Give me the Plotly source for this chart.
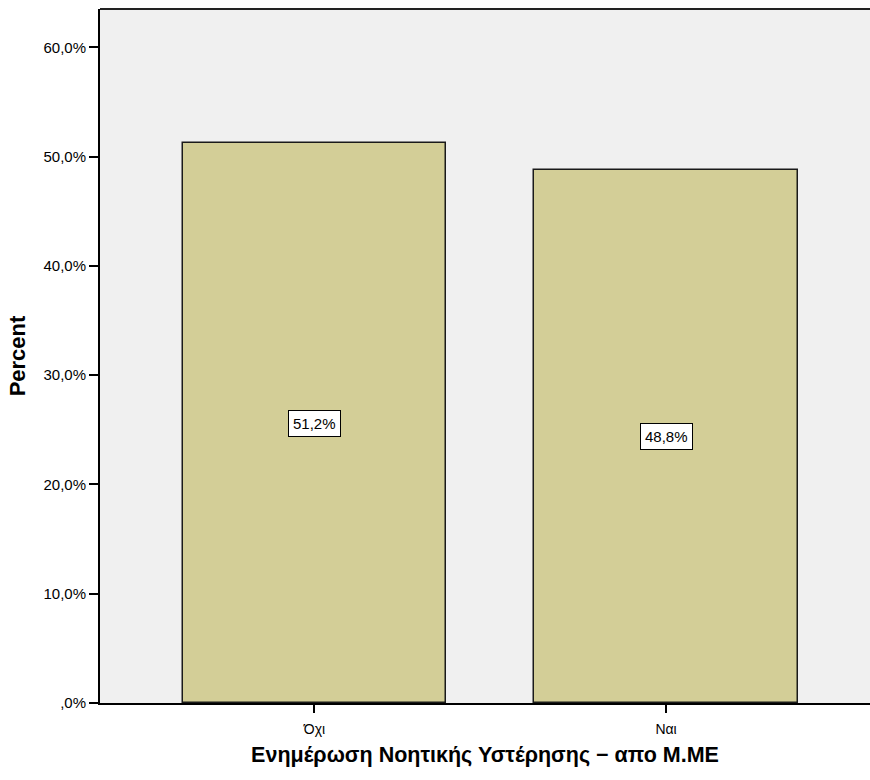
import plotly.graph_objects as go

categories = ["Όχι", "Ναι"]
percent = [51.2, 48.8]
value_labels = ["51,2%", "48,8%"]
y_tick_vals = [0, 10, 20, 30, 40, 50, 60]
y_tick_text = [",0%", "10,0%", "20,0%", "30,0%", "40,0%", "50,0%", "60,0%"]

x_pos = list(range(len(categories)))
FONT = "Liberation Sans, Arial, sans-serif"

fig = go.Figure()
fig.add_trace(go.Bar(
    x=x_pos, y=percent, width=0.75,
    marker=dict(color="#D3CE97", line=dict(color="#1a1a1a", width=1.5)),
    hoverinfo="skip", showlegend=False,
))

for xi, v, lab in zip(x_pos, percent, value_labels):
    fig.add_annotation(
        x=xi, y=v / 2, xref="x", yref="y", text=lab, showarrow=False,
        font=dict(family=FONT, size=15, color="black"),
        bgcolor="white", bordercolor="black", borderwidth=1, borderpad=4,
    )

fig.update_layout(
    width=870, height=780,
    margin=dict(l=100, r=0, t=9, b=77),
    paper_bgcolor="white", plot_bgcolor="#F0F0F0",
    font=dict(family=FONT, size=15, color="black"),
    bargap=0,
)
fig.update_xaxes(
    range=[-0.61, 1.58], tickvals=x_pos, ticktext=categories,
    showline=True, linecolor="black", linewidth=2,
    ticks="outside", ticklen=8, tickwidth=1.5, tickcolor="black",
    ticklabelstandoff=4,
    showgrid=False, zeroline=False,
    tickfont=dict(family=FONT, size=14),
    title=dict(text="<b>Ενημέρωση Νοητικής Υστέρησης − απο Μ.ΜΕ</b>",
               font=dict(family=FONT, size=21.5), standoff=11),
)
fig.update_yaxes(
    range=[0, 63.5], tickvals=y_tick_vals, ticktext=y_tick_text,
    showline=True, linecolor="black", linewidth=2,
    ticks="outside", ticklen=9, tickwidth=2, tickcolor="black",
    showgrid=False, zeroline=False,
    tickfont=dict(family=FONT, size=15),
    title=dict(text="<b>Percent</b>", font=dict(family=FONT, size=22), standoff=12),
)
fig.add_shape(type="line", xref="paper", yref="paper", x0=0, x1=1, y0=1, y1=1,
              line=dict(color="#222", width=2))

fig.write_html(
    "out.html",
    config={"displayModeBar": False},
    post_script=("document.documentElement.style.margin='0px';"
                 "document.documentElement.style.overflow='hidden';"
                 "document.body.style.margin='0px';"
                 "document.body.style.overflow='hidden';"),
)
